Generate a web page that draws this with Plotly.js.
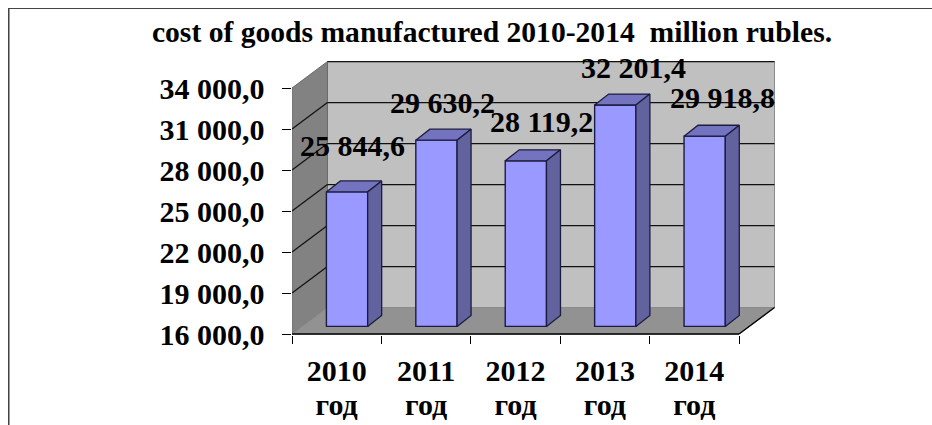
<!DOCTYPE html>
<html><head><meta charset="utf-8">
<script src="https://cdn.plot.ly/plotly-3.0.1.min.js"></script>
<style>html,body{margin:0;padding:0;background:#fff;overflow:hidden}#c{width:932px;height:425px}
#frame{position:absolute;left:8px;top:8px;right:-4px;bottom:-4px;border-left:1px solid #444;border-top:1px solid #444;box-shadow:inset 1px 0 0 #999;pointer-events:none}</style>
</head><body><div id="c"></div><div id="frame"></div>
<script>
const years = ['2010','2011','2012','2013','2014'];
const unitLabel = 'год';
const values = [25844.6, 29630.2, 28119.2, 32201.4, 29918.8];
const valueTicks = [16000,19000,22000,25000,28000,31000,34000];
const titleText = 'cost of goods manufactured 2010-2014  million rubles.';

const W=932,H=425;
const fam='"Liberation Serif","Times New Roman",serif';
const pxX=89.5, pxY=13.69/1000;          // pixels per category / per unit
const originX=291.5, zeroY=334.5;        // pixel position of category 0 / value 16000
const plotRight=777, plotTop=60, plotBottom=335.5;
const yMin=16000;
const xOf=px=>(px-originX)/pxX;
const yOf=py=>yMin+(zeroY-py)/pxY;
const wallDx=35.5/pxX, wallDy=26.5/pxY;  // depth of the chart box
const barDx=14/pxX, barDy=11/pxY;        // depth of one bar
const barW=41.3/pxX, barShift=10.35/pxX, barLift=555;
const fmt=v=>{const s=v.toFixed(1).replace('.',',');const [a,b]=s.split(',');
  return a.replace(/\B(?=(\d{3})+$)/g,' ')+','+b;};

const maxTick=valueTicks[valueTicks.length-1], nCat=years.length;
const centers=years.map((_,i)=>i+0.5+barShift);
const base=yMin+barLift;

const bars={type:'bar',x:centers,y:values.map(v=>v-yMin),base:base,width:barW,
  marker:{color:'#9999ff',line:{color:'#1c1c40',width:1.4}},hoverinfo:'skip',showlegend:false};

const side={x:[],y:[]},cap={x:[],y:[]};
values.forEach((v,i)=>{
  const x1=centers[i]-barW/2,x2=centers[i]+barW/2,t=v+barLift;
  side.x.push(x2,x2+barDx,x2+barDx,x2,x2,null);
  side.y.push(base,base+barDy,t+barDy,t,base,null);
  cap.x.push(x1,x2,x2+barDx,x1+barDx,x1,null);
  cap.y.push(t,t,t+barDy,t+barDy,t,null);
});
const poly=(d,c,xa)=>({type:'scatter',mode:'lines',x:d.x,y:d.y,fill:'toself',fillcolor:c,
  line:{color:'#1c1c40',width:1.3},hoverinfo:'skip',showlegend:false,xaxis:xa||'x'});

const line=(x0,y0,x1,y1,c,w)=>({type:'line',xref:'x',yref:'y',x0,y0,x1,y1,layer:'below',line:{color:c,width:w}});
const path=(pts,c,lc)=>({type:'path',xref:'x',yref:'y',layer:'below',fillcolor:c,line:{color:lc,width:1},
  path:pts.map((p,i)=>(i?'L':'M')+p[0]+','+p[1]).join(' ')+' Z'});
const shapes=[
  path([[wallDx,yMin+wallDy],[nCat+wallDx,yMin+wallDy],[nCat+wallDx,maxTick+wallDy],[wallDx,maxTick+wallDy]],'#c0c0c0','#8c8c8c'),
  path([[0,yMin],[wallDx,yMin+wallDy],[wallDx,maxTick+wallDy],[0,maxTick]],'#828282','#6a6a6a'),
  path([[0,yMin],[nCat,yMin],[nCat+wallDx,yMin+wallDy],[wallDx,yMin+wallDy]],'#929292','#8a8a8a'),
];
valueTicks.forEach((t,i)=>{
  if(i===0) return;
  const last=i===valueTicks.length-1;
  shapes.push(line(wallDx,t+wallDy,nCat+wallDx,t+wallDy,'#111',1.3));
  if(!last) shapes.push(line(0,t,wallDx,t+wallDy,'#111',1.3));
});
shapes.push(line(0,yMin,nCat,yMin,'#000',1.6));
shapes.push(line(nCat,yMin,nCat+wallDx,yMin+wallDy,'#000',1.3));

const labelDx=[5.5,6.5,15.5,18.5,18], labelDy=[46.5,38,39,38,39];
const annotations=values.map((v,i)=>({xref:'x',yref:'y',x:centers[i],y:v+barLift,text:fmt(v),showarrow:false,
  xanchor:'center',yanchor:'middle',xshift:labelDx[i],yshift:labelDy[i],
  font:{family:fam,size:30,color:'#000',weight:'bold'}}));

const axisFont={family:fam,size:30,color:'#000',weight:'bold'};
const mids=years.map((_,i)=>i+0.5), edges=years.map((_,i)=>i).concat(nCat);
const xRange=[xOf(originX),xOf(plotRight)], yRange=[yOf(plotBottom),yOf(plotTop)];
const layout={width:W,height:H,paper_bgcolor:'#fff',plot_bgcolor:'rgba(0,0,0,0)',showlegend:false,
  margin:{l:originX,r:W-plotRight,t:plotTop,b:H-plotBottom,pad:0},
  title:{text:titleText,x:492/W,xanchor:'center',xref:'container',y:1-32/H,yanchor:'middle',font:{family:fam,size:29.6,color:'#000',weight:'bold'},automargin:false},
  xaxis:{type:'linear',range:xRange,tickmode:'array',tickvals:mids,ticktext:years,ticks:'',showgrid:false,zeroline:false,showline:false,
    tickfont:axisFont,ticklabelstandoff:15,fixedrange:true},
  xaxis2:{type:'linear',range:xRange,overlaying:'x',anchor:'y',side:'bottom',tickmode:'array',tickvals:mids,ticktext:years.map(()=>unitLabel),
    ticks:'',showgrid:false,zeroline:false,showline:false,tickfont:axisFont,ticklabelstandoff:49,fixedrange:true,
    minor:{tickmode:'array',tickvals:edges,ticks:'outside',ticklen:8,tickcolor:'#000',tickwidth:1}},
  yaxis:{type:'linear',range:yRange,tickmode:'array',tickvals:valueTicks,ticktext:valueTicks.map(fmt),ticks:'outside',ticklen:9.5,tickcolor:'#000',tickwidth:1,
    showgrid:false,zeroline:false,showline:false,tickfont:axisFont,ticklabelstandoff:11,fixedrange:true},
  bargap:0,shapes,annotations};
Plotly.newPlot('c',[bars,poly(side,'#62629e','x2'),poly(cap,'#7373bf')],layout,{displayModeBar:false,staticPlot:true});
</script></body></html>
